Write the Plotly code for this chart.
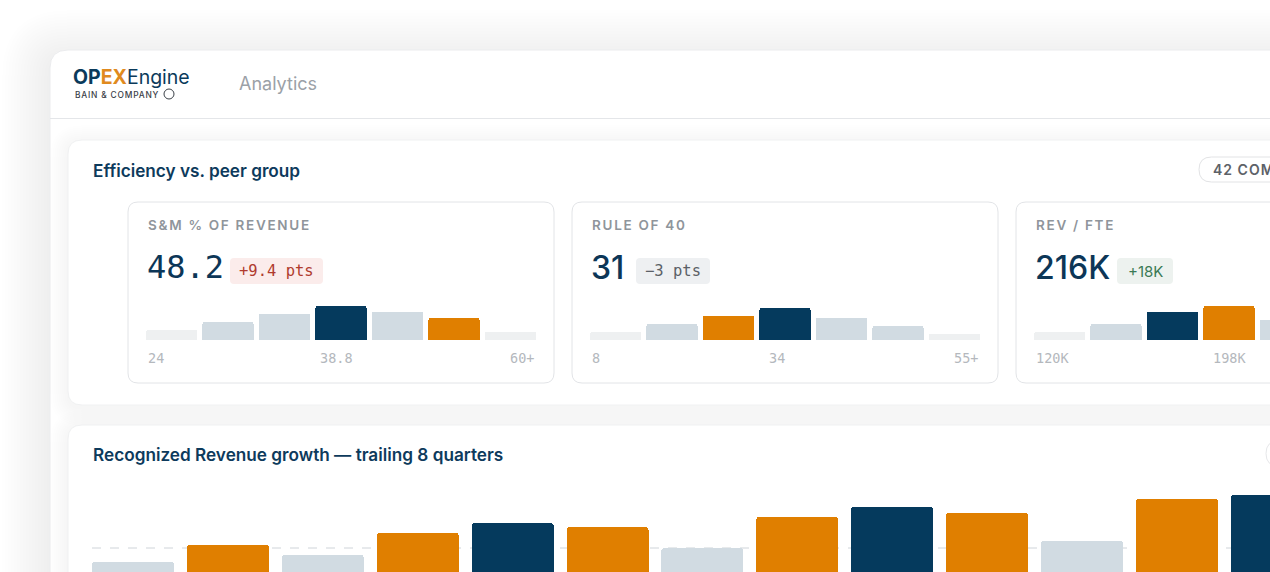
import plotly.graph_objects as go

W, H = 1270, 572

# ---------------- data ----------------
sm_values = [10, 18, 26, 34, 28, 22, 8]          # peer distribution, S&M % of revenue
sm_you, sm_median = 5, 3
sm_ticks = ["24", "38.8", "60+"]

r40_values = [8, 16, 24, 32, 22, 14, 6]          # peer distribution, Rule of 40
r40_you, r40_median = 2, 3
r40_ticks = ["8", "34", "55+"]

fte_values = [8, 16, 28, 34, 20, 12, 6]          # peer distribution, Rev / FTE
fte_you, fte_median = 3, 2
fte_ticks = ["120K", "198K", "280K"]

kpi_labels = ["S&amp;M % OF REVENUE", "RULE OF 40", "REV / FTE"]
kpi_values = ["48.2", "31", "216K"]
kpi_deltas = ["+9.4 pts", "\u22123 pts", "+18K"]

growth_values = [5.8, 7.5, 6.5, 8.7, 9.7, 9.3, 7.2, 10.3, 11.3, 10.7, 7.9, 12.1, 12.5]
growth_kind = ["peer", "you", "peer", "you", "top", "you", "peer",
               "you", "top", "you", "peer", "you", "top"]
growth_peer_median = 7.2

# ---------------- style ----------------
NAVY = "#053a5d"
ORANGE = "#e07f00"
MID = "#d1dbe2"
LIGHT = "#eef0f1"
TITLE = "#0d3a5c"
SANS = "Inter, Roboto, sans-serif"
MONO = "DejaVu Sans Mono, Liberation Mono, monospace"


def X(x):
    return x / W


def Y(y):
    return 1 - y / H


def rrect(x0, y0, x1, y1, r):
    return (f"M {X(x0+r)},{Y(y0)} L {X(x1-r)},{Y(y0)} Q {X(x1)},{Y(y0)} {X(x1)},{Y(y0+r)} "
            f"L {X(x1)},{Y(y1-r)} Q {X(x1)},{Y(y1)} {X(x1-r)},{Y(y1)} "
            f"L {X(x0+r)},{Y(y1)} Q {X(x0)},{Y(y1)} {X(x0)},{Y(y1-r)} "
            f"L {X(x0)},{Y(y0+r)} Q {X(x0)},{Y(y0)} {X(x0+r)},{Y(y0)} Z")


shapes = []
annotations = []


def box(x0, y0, x1, y1, r, fill="white", line=None, lw=1):
    shapes.append(dict(type="path", path=rrect(x0, y0, x1, y1, r), xref="paper", yref="paper",
                       fillcolor=fill, line=dict(color=line or "rgba(0,0,0,0)", width=lw if line else 0),
                       layer="below"))


def shadow(x0, y0, x1, y1, r, steps, step, alpha, dy):
    for k in range(steps, 0, -1):
        e = k * step
        box(x0 - e, y0 - e + dy, x1 + e, y1 + e + dy, r + e, fill=f"rgba(30,40,50,{alpha})")


def text(t, x, y, size, color, family=SANS, weight=400, xanchor="left", spacing=None):
    if spacing:
        t = f"<span style='letter-spacing:{spacing}px'>{t}</span>"
    annotations.append(dict(text=t, x=X(x), y=Y(y), xref="paper", yref="paper", showarrow=False,
                            xanchor=xanchor, yanchor="middle",
                            font=dict(size=size, color=color, family=family, weight=weight)))


# ---------------- frame ----------------
shadow(50, 50, 1400, 700, 18, 16, 3, 0.003, 8)
box(50, 50, 1400, 700, 18, fill="white", line="#ebecee")
shapes.append(dict(type="line", x0=X(50), x1=X(1290), y0=Y(118.5), y1=Y(118.5), xref="paper",
                   yref="paper", line=dict(color="#e4e6e9", width=1), layer="below"))

# logo + nav
text("<b><span style='color:#0b3a5b'>OP</span><span style='color:#e08a1e'>EX</span></b>"
     "<span style='color:#0b3a5b'>Engine</span>", 71, 77, 19.5, "#0b3a5b")
text("BAIN &amp; COMPANY", 73, 94.5, 8.4, "#3a4047", weight=500, spacing=0.8)
shapes.append(dict(type="circle", xref="paper", yref="paper", x0=X(164), x1=X(174), y0=Y(89), y1=Y(99),
                   line=dict(color="#3a4047", width=1), fillcolor="rgba(0,0,0,0)", layer="above"))
text("Analytics", 237, 83, 18, "#9ba1a7")

# section cards
shadow(68, 140, 1400, 405, 14, 9, 2, 0.0022, 3)
box(68, 140, 1400, 405, 14, fill="white", line="#f0f1f2")
shadow(68, 425, 1400, 800, 14, 9, 2, 0.0022, 3)
box(68, 425, 1400, 800, 14, fill="white", line="#f0f1f2")

text("Efficiency vs. peer group", 91, 170, 17.2, TITLE, weight=600)
text("Recognized Revenue growth \u2014 trailing 8 quarters", 91, 454, 17.2, TITLE, weight=600)

# peer pill
box(1199, 157, 1340, 182, 12.5, fill="white", line="#e2e3e5")
text("42 COMPANIES", 1211, 169.5, 14, "#5d6268", weight=600, spacing=1.0)
box(1266, 441, 1340, 466, 12.5, fill="white", line="#e6e7e9")

# ---------------- KPI cards ----------------
card_x = [128, 572, 1016]
dists = [(sm_values, sm_you, sm_median, sm_ticks),
         (r40_values, r40_you, r40_median, r40_ticks),
         (fte_values, fte_you, fte_median, fte_ticks)]
badge = [dict(w=93, fill="#fbeceb", color="#b03b2e", family=MONO, size=15.5),
         dict(w=74, fill="#eef0f2", color="#5b6066", family=MONO, size=15.5),
         dict(w=56, fill="#edf2ef", color="#3b7a55", family=SANS, size=15)]
value_fam = [MONO, SANS, SANS]
value_w = [84, 46, 83]

fig = go.Figure()
GAPF = 0.096
TICK_SIZE = 13.5

for i, cx in enumerate(card_x):
    box(cx, 202, cx + 426, 383, 10, fill="white", line="#e2e4e7")
    lx = cx + 18
    text(kpi_labels[i], lx, 225, 13.5, "#8f959b", weight=600, spacing=1.7)
    text(kpi_values[i], lx - 1, 267, 32, "#0c3657", family=value_fam[i], weight=500)
    bx = lx + value_w[i]
    b = badge[i]
    box(bx, 258, bx + b["w"], 284, 4, fill=b["fill"])
    text(kpi_deltas[i], bx + b["w"] / 2, 271, b["size"], b["color"], family=b["family"],
         xanchor="center")

    vals, you, med, ticks = dists[i]
    n = len(vals)
    cols = []
    for j in range(n):
        if j == you:
            cols.append(ORANGE)
        elif j == med:
            cols.append(NAVY)
        elif j in (0, n - 1):
            cols.append(LIGHT)
        else:
            cols.append(MID)
    ax = i + 2
    fig.add_trace(go.Bar(x=list(range(n)), y=vals, width=1 - GAPF,
                         marker=dict(color=cols, cornerradius=2, line=dict(width=0)),
                         xaxis=f"x{ax}", yaxis=f"y{ax}", hoverinfo="skip", showlegend=False))
    x_left, x_right = lx, lx + 390
    unit = 390 / (n - GAPF)
    r0 = -0.5 + GAPF / 2
    if x_right > W:
        r1 = r0 + (W - x_left) / unit
        dom_r = 1.0
    else:
        r1 = n - 0.5 - GAPF / 2
        dom_r = X(x_right)
    fig.layout[f"xaxis{ax}"] = dict(domain=[X(x_left), dom_r], range=[r0, r1], visible=False,
                                    fixedrange=True, anchor=f"y{ax}")
    fig.layout[f"yaxis{ax}"] = dict(domain=[Y(340), Y(300)], range=[0, 40], visible=False,
                                    fixedrange=True, anchor=f"x{ax}")

    # tick labels spaced like flex space-between
    cw = 0.6 * TICK_SIZE
    gap = (390 - cw * sum(len(t) for t in ticks)) / 2
    mid_c = x_left + cw * len(ticks[0]) + gap + cw * len(ticks[1]) / 2
    tc = "#b4b8bd"
    text(ticks[0], x_left, 358, TICK_SIZE, tc, family=MONO)
    text(ticks[1], mid_c, 358, TICK_SIZE, tc, family=MONO, xanchor="center")
    if x_right <= W:
        text(ticks[2], x_right, 358, TICK_SIZE, tc, family=MONO, xanchor="right")

# ---------------- growth chart ----------------
kind_col = {"peer": MID, "you": ORANGE, "top": NAVY}
fig.add_trace(go.Bar(x=list(range(len(growth_values))), y=growth_values, width=0.864,
                     marker=dict(color=[kind_col[k] for k in growth_kind], cornerradius=3,
                                 line=dict(width=0)),
                     xaxis="x", yaxis="y", hoverinfo="skip", showlegend=False))
fig.layout.xaxis = dict(domain=[X(92), 1.0], range=[-0.432, 11.981], visible=False, fixedrange=True,
                        anchor="y")
fig.layout.yaxis = dict(domain=[0, Y(480)], range=[4.8, 14.0], visible=False, fixedrange=True,
                        anchor="x")
shapes.append(dict(type="line", xref="x domain", yref="y", x0=0, x1=1, y0=growth_peer_median,
                   y1=growth_peer_median, line=dict(color="#cfd4d9", width=1, dash="dash"),
                   layer="below"))

fig.update_layout(width=W, height=H, margin=dict(l=0, r=0, t=0, b=0),
                  paper_bgcolor="white", plot_bgcolor="rgba(0,0,0,0)",
                  shapes=shapes, annotations=annotations, bargap=0, showlegend=False)

fig.write_html("out.html", config={"displayModeBar": False, "staticPlot": True},
               post_script="document.body.style.margin='0px';document.body.style.overflow='hidden';")
